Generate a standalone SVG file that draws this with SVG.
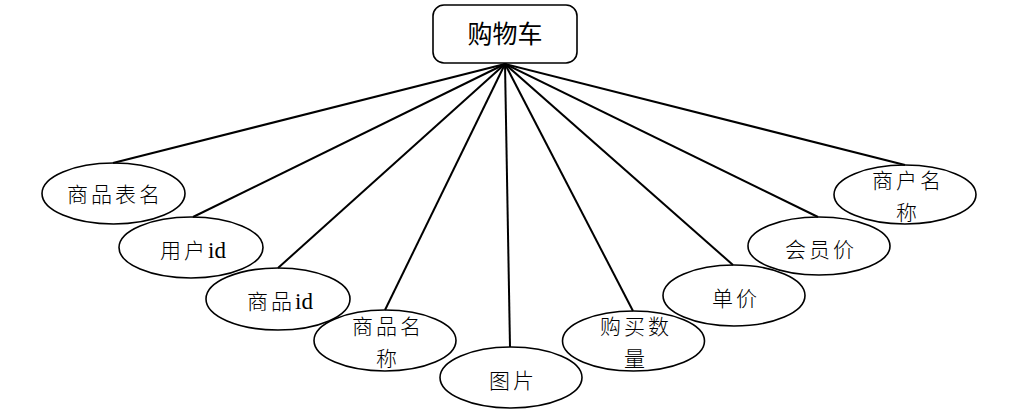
<svg xmlns="http://www.w3.org/2000/svg" width="1030" height="416" viewBox="0 0 1030 416">
<style>
.conn line{stroke:#000;stroke-width:2;}
.ell{fill:none;stroke:#000;stroke-width:1.6;}
.t{font-family:"Liberation Serif","Noto Sans CJK SC",serif;font-size:21px;font-weight:300;fill:#000;text-anchor:middle;letter-spacing:3px;}
.id{font-size:23px;letter-spacing:0;font-weight:400;}
.title{font-family:"Noto Sans CJK SC",sans-serif;font-size:25px;fill:#000;text-anchor:middle;}
</style>
<rect width="1030" height="416" fill="#fff"/>
<g class="conn" id="connectors">
<line x1="505" y1="64" x2="113" y2="163"/>
<line x1="505" y1="64" x2="193" y2="217"/>
<line x1="505" y1="64" x2="278" y2="268"/>
<line x1="505" y1="64" x2="385" y2="310"/>
<line x1="505" y1="64" x2="510" y2="347"/>
<line x1="505" y1="64" x2="633" y2="311"/>
<line x1="505" y1="64" x2="733" y2="265"/>
<line x1="505" y1="64" x2="818" y2="217"/>
<line x1="505" y1="64" x2="905" y2="165"/>
</g>
<g id="cart">
<rect x="433" y="5" width="144" height="58" rx="11" fill="#fff" stroke="#000" stroke-width="1.6"/>
<text class="title" x="505" y="43">购物车</text>
</g>
<g id="n1">
<ellipse class="ell" cx="113.5" cy="193.5" rx="71.5" ry="30.5"/>
<text class="t" x="115" y="202">商品表名</text>
</g>
<g id="n2">
<ellipse class="ell" cx="191" cy="247.5" rx="72" ry="30.5"/>
<text class="t" x="193" y="258">用户<tspan class="id">id</tspan></text>
</g>
<g id="n3">
<ellipse class="ell" cx="278" cy="299" rx="72" ry="31"/>
<text class="t" x="280" y="309">商品<tspan class="id">id</tspan></text>
</g>
<g id="n4">
<ellipse class="ell" cx="385" cy="340.5" rx="71" ry="30.5"/>
<text class="t" x="388" y="334">商品名</text>
<text class="t" x="388" y="366">称</text>
</g>
<g id="n5">
<ellipse class="ell" cx="511" cy="377.5" rx="71" ry="30.5"/>
<text class="t" x="513" y="388">图片</text>
</g>
<g id="n6">
<ellipse class="ell" cx="633.5" cy="341" rx="71" ry="30"/>
<text class="t" x="636" y="334">购买数</text>
<text class="t" x="636" y="366">量</text>
</g>
<g id="n7">
<ellipse class="ell" cx="734" cy="295.5" rx="71" ry="30.5"/>
<text class="t" x="736" y="306">单价</text>
</g>
<g id="n8">
<ellipse class="ell" cx="819" cy="246" rx="71" ry="29"/>
<text class="t" x="821" y="257">会员价</text>
</g>
<g id="n9">
<ellipse class="ell" cx="905" cy="194.5" rx="71" ry="29.5"/>
<text class="t" x="908" y="188">商户名</text>
<text class="t" x="908" y="220">称</text>
</g>
</svg>
